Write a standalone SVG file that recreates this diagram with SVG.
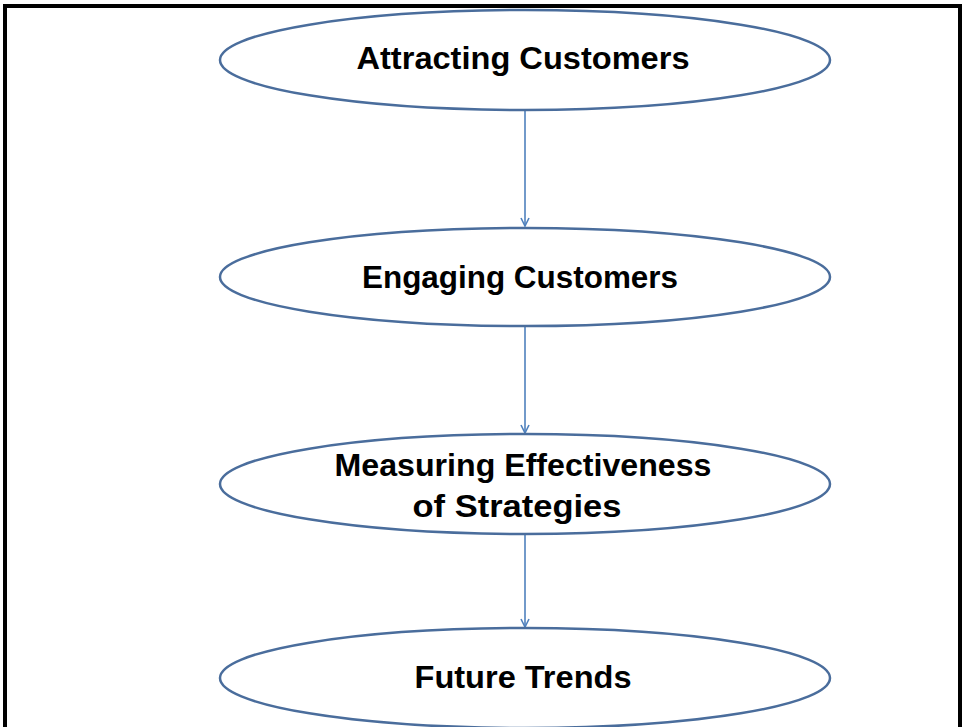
<svg xmlns="http://www.w3.org/2000/svg" width="964" height="727" viewBox="0 0 964 727">
<style>
.node ellipse{fill:#ffffff;stroke:#4a6d9c;stroke-width:2.5}
.node text{font-family:"Liberation Sans",Arial,sans-serif;font-weight:bold;font-size:32px;fill:#000000;text-anchor:middle}
.conn line{stroke:#4f81bd;stroke-width:1.6;fill:none}
</style>
<defs>
<marker id="arr" viewBox="0 0 10 10" refX="9" refY="5" markerWidth="10" markerHeight="10" markerUnits="userSpaceOnUse" orient="auto">
<path d="M1,1 L9,5 L1,9" fill="none" stroke="#4f81bd" stroke-width="1.6"/>
</marker>
</defs>
<rect x="0" y="0" width="964" height="727" fill="#ffffff"/>
<path d="M5,760 L5,6 L960,6 L960,760" fill="none" stroke="#000000" stroke-width="4"/>
<g class="conn" id="connectors">
<line x1="525" y1="110" x2="525" y2="226" marker-end="url(#arr)"/>
<line x1="525" y1="326" x2="525" y2="433" marker-end="url(#arr)"/>
<line x1="525" y1="534" x2="525" y2="627" marker-end="url(#arr)"/>
</g>
<g class="node" id="node-attracting">
<ellipse cx="525" cy="60" rx="305" ry="50"/>
<text x="523" y="69" textLength="333" lengthAdjust="spacingAndGlyphs">Attracting Customers</text>
</g>
<g class="node" id="node-engaging">
<ellipse cx="525" cy="277" rx="305" ry="49"/>
<text x="520" y="288" textLength="316" lengthAdjust="spacingAndGlyphs">Engaging Customers</text>
</g>
<g class="node" id="node-measuring">
<ellipse cx="525" cy="484" rx="305" ry="50"/>
<text x="523" y="476" textLength="377" lengthAdjust="spacingAndGlyphs">Measuring Effectiveness</text>
<text x="517" y="517" textLength="209" lengthAdjust="spacingAndGlyphs">of Strategies</text>
</g>
<g class="node" id="node-future">
<ellipse cx="525" cy="678" rx="305" ry="50"/>
<text x="523" y="688" textLength="217" lengthAdjust="spacingAndGlyphs">Future Trends</text>
</g>
</svg>
